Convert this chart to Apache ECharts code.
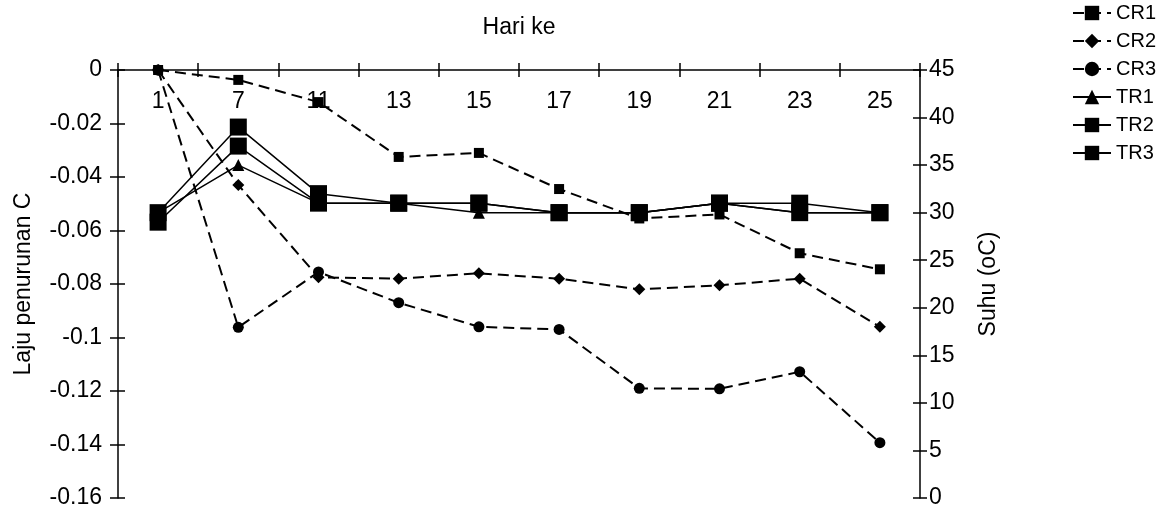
<!DOCTYPE html>
<html>
<head>
<meta charset="utf-8">
<script src="https://cdn.jsdelivr.net/npm/echarts@6/dist/echarts.min.js"></script>
<style>
  html, body { margin: 0; padding: 0; background: #fff; }
  #chart { width: 1159px; height: 515px; }
</style>
</head>
<body>
<div id="chart"></div>
<script>
// Day of observation
const days = ['1', '7', '11', '13', '15', '17', '19', '21', '23', '25'];

// Carbon decrease rate (left axis)
const cr1 = [0, -0.0037, -0.012, -0.0325, -0.031, -0.0445, -0.0555, -0.054, -0.0685, -0.0745];
const cr2 = [0, -0.043, -0.0775, -0.078, -0.076, -0.078, -0.082, -0.0805, -0.078, -0.096];
const cr3 = [0, -0.0962, -0.0755, -0.087, -0.096, -0.097, -0.119, -0.1192, -0.1128, -0.1393];

// Temperature (right axis)
const tr1 = [30, 35, 31, 31, 30, 30, 30, 31, 30, 30];
const tr2 = [30, 39, 32, 31, 31, 30, 30, 31, 31, 30];
const tr3 = [29, 37, 31, 31, 31, 30, 30, 31, 30, 30];

// Axis ticks
const rateMin = -0.16, rateMax = 0, rateStep = 0.02;
const tempMin = 0, tempMax = 45, tempStep = 5;

const FONT = 'Liberation Sans, Arial, sans-serif';
const BLACK = '#000';
const AXIS_FONT = 23;

const dashed = (name, data, symbol, size) => ({
  name, type: 'line', data, yAxisIndex: 0, xAxisIndex: 0,
  symbol, symbolSize: size, showSymbol: true,
  lineStyle: { color: BLACK, width: 2, type: [11, 6] },
  itemStyle: { color: BLACK, borderWidth: 0 },
  emphasis: { disabled: true },
  animation: false, z: 2
});
const solid = (name, data, symbol, size) => ({
  name, type: 'line', data, yAxisIndex: 1, xAxisIndex: 0,
  symbol, symbolSize: size, showSymbol: true,
  lineStyle: { color: BLACK, width: 1.5, type: 'solid' },
  itemStyle: { color: BLACK, borderWidth: 0 },
  emphasis: { disabled: true },
  animation: false, z: 3
});

const chart = echarts.init(document.getElementById('chart'), null, { renderer: 'canvas' });

const valueLabel = v => {
  if (v === 0) return '0';
  return String(Math.round(v * 100) / 100);
};

chart.setOption({
  backgroundColor: '#fff',
  textStyle: { fontFamily: FONT, color: BLACK },
  grid: { left: 118, right: 239, top: 70, bottom: 17, containLabel: false },
  legend: {
    orient: 'vertical', left: 1067, top: -2,
    itemWidth: 38, itemHeight: 18, itemGap: 8,
    textStyle: { fontFamily: FONT, fontSize: 20, color: BLACK, lineHeight: 18 },
    data: ['CR1', 'CR2', 'CR3', 'TR1', 'TR2', 'TR3']
  },
  xAxis: [
    {
      type: 'category', data: days, position: 'top', boundaryGap: true,
      name: 'Hari ke', nameLocation: 'middle', nameGap: 31,
      nameTextStyle: { fontFamily: FONT, fontSize: AXIS_FONT, color: BLACK },
      axisLine: { onZero: false, lineStyle: { color: BLACK, width: 1.5 } },
      axisTick: { show: true, inside: true, length: 7, lineStyle: { color: BLACK, width: 1.5 } },
      axisLabel: { inside: true, margin: 20, fontFamily: FONT, fontSize: AXIS_FONT, color: BLACK },
      splitLine: { show: false }
    },
    {
      type: 'category', data: days, position: 'top', boundaryGap: true,
      axisLine: { show: false },
      axisTick: { show: true, inside: false, length: 7, lineStyle: { color: BLACK, width: 1.5 } },
      axisLabel: { show: false }, splitLine: { show: false }
    }
  ],
  yAxis: [
    {
      type: 'value', position: 'left', min: rateMin, max: rateMax, interval: rateStep,
      name: 'Laju penurunan C', nameLocation: 'middle', nameGap: 83, nameRotate: 90,
      nameTextStyle: { fontFamily: FONT, fontSize: AXIS_FONT, color: BLACK },
      axisLine: { show: true, onZero: false, lineStyle: { color: BLACK, width: 1.5 } },
      axisTick: { show: true, inside: false, length: 8, lineStyle: { color: BLACK, width: 1.5 } },
      axisLabel: { margin: 16, fontFamily: FONT, fontSize: AXIS_FONT, color: BLACK, formatter: valueLabel },
      splitLine: { show: false }
    },
    {
      type: 'value', position: 'right', min: tempMin, max: tempMax, interval: tempStep,
      name: 'Suhu (oC)', nameLocation: 'middle', nameGap: 57, nameRotate: 90,
      nameTextStyle: { fontFamily: FONT, fontSize: AXIS_FONT, color: BLACK },
      axisLine: { show: true, onZero: false, lineStyle: { color: BLACK, width: 1.5 } },
      axisTick: { show: true, inside: false, length: 7, lineStyle: { color: BLACK, width: 1.5 } },
      axisLabel: { margin: 9, fontFamily: FONT, fontSize: AXIS_FONT, color: BLACK },
      splitLine: { show: false }
    },
    {
      type: 'value', position: 'left', min: rateMin, max: rateMax, interval: rateStep,
      axisLine: { show: false },
      axisTick: { show: true, inside: true, length: 7, lineStyle: { color: BLACK, width: 1.5 } },
      axisLabel: { show: false }, splitLine: { show: false }
    },
    {
      type: 'value', position: 'right', min: tempMin, max: tempMax, interval: tempStep,
      axisLine: { show: false },
      axisTick: { show: true, inside: true, length: 7, lineStyle: { color: BLACK, width: 1.5 } },
      axisLabel: { show: false }, splitLine: { show: false }
    }
  ],
  series: [
    dashed('CR1', cr1, 'rect', 10),
    dashed('CR2', cr2, 'diamond', 12),
    dashed('CR3', cr3, 'circle', 11),
    solid('TR1', tr1, 'triangle', 12),
    solid('TR2', tr2, 'rect', 17),
    solid('TR3', tr3, 'rect', 17)
  ]
});
</script>
</body>
</html>
